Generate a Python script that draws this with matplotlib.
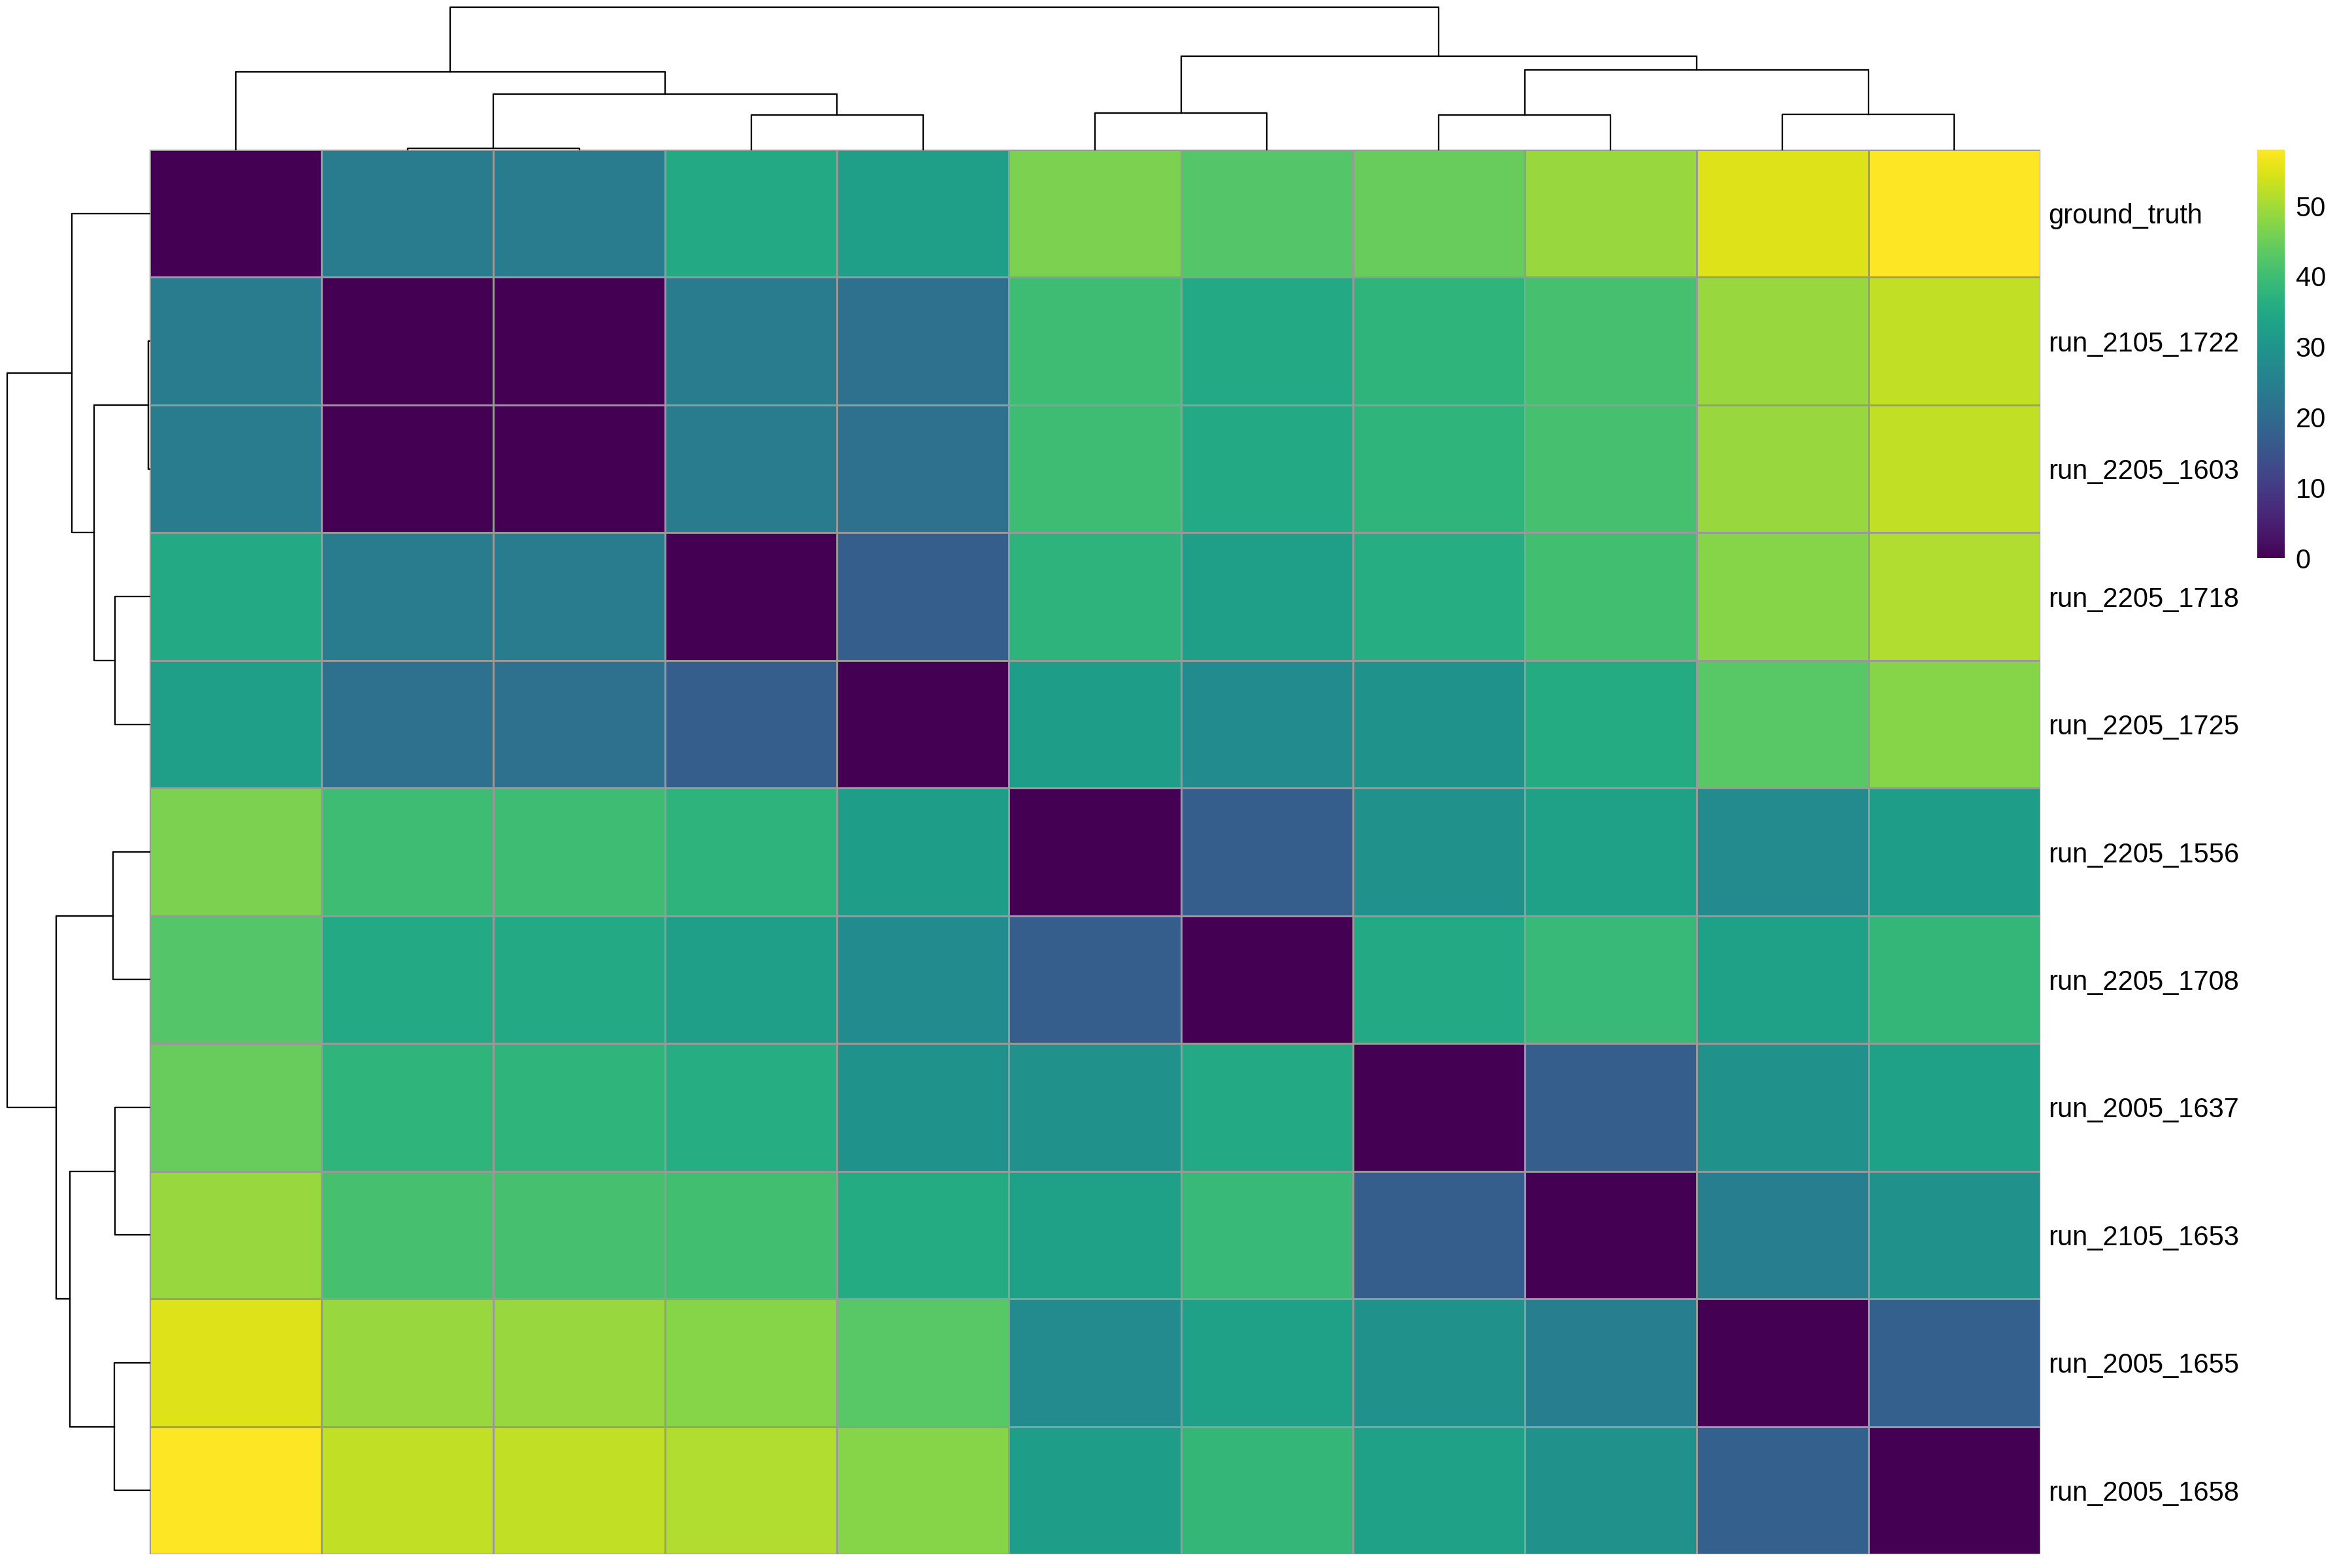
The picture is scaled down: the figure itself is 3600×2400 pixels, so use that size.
import numpy as np
import matplotlib
matplotlib.use("Agg")
import matplotlib.pyplot as plt

plt.rcParams['font.family'] = ['Liberation Sans', 'DejaVu Sans']

# row/column order as shown (after clustering)
labels = ["ground_truth", "run_2105_1722", "run_2205_1603", "run_2205_1718",
          "run_2205_1725", "run_2205_1556", "run_2205_1708", "run_2005_1637",
          "run_2105_1653", "run_2005_1655", "run_2005_1658"]

# distance matrix
dist = [
    [0.0, 23.8, 23.8, 35.0, 32.5, 46.5, 42.5, 44.5, 49.0, 55.0, 58.0],
    [23.8, 0.0, 0.0, 23.8, 21.5, 40.0, 35.0, 37.7, 41.0, 49.0, 52.5],
    [23.8, 0.0, 0.0, 23.8, 21.5, 40.0, 35.0, 37.7, 41.0, 49.0, 52.5],
    [35.0, 23.8, 23.8, 0.0, 17.0, 37.5, 32.5, 36.0, 40.5, 47.5, 51.0],
    [32.5, 21.5, 21.5, 17.0, 0.0, 32.0, 27.8, 29.5, 35.4, 43.0, 47.5],
    [46.5, 40.0, 40.0, 37.5, 32.0, 0.0, 17.0, 29.0, 33.0, 27.5, 32.0],
    [42.5, 35.0, 35.0, 32.5, 27.8, 17.0, 0.0, 35.0, 39.0, 33.0, 38.5],
    [44.5, 37.7, 37.7, 36.0, 29.5, 29.0, 35.0, 0.0, 17.0, 29.0, 33.0],
    [49.0, 41.0, 41.0, 40.5, 35.4, 33.0, 39.0, 17.0, 0.0, 24.5, 29.0],
    [55.0, 49.0, 49.0, 47.5, 43.0, 27.5, 33.0, 29.0, 24.5, 0.0, 17.5],
    [58.0, 52.5, 52.5, 51.0, 47.5, 32.0, 38.5, 33.0, 29.0, 17.5, 0.0],
]

# dendrogram merges (left node, right node, height); leaves are 0..10,
# merged nodes get ids 11, 12, ... in order
merge_left = [1, 3, 11, 0, 5, 7, 9, 16, 15, 14]
merge_right = [2, 4, 12, 13, 6, 8, 10, 17, 18, 19]
merge_height = [1.0, 24.3, 39.0, 54.6, 25.7, 24.3, 24.8, 56.0, 65.6, 100.0]

cbar_ticks = [0, 10, 20, 30, 40, 50]


def dendro_segments():
    n = len(labels)
    pos = {i: i + 0.5 for i in range(n)}
    hgt = {i: 0.0 for i in range(n)}
    segs = []
    for k in range(len(merge_left)):
        a, b, h = merge_left[k], merge_right[k], merge_height[k]
        segs.append(([pos[a], pos[a], pos[b], pos[b]], [hgt[a], h, h, hgt[b]]))
        pos[n + k] = (pos[a] + pos[b]) / 2
        hgt[n + k] = h
    return segs


W, H = 3600, 2400
fig = plt.figure(figsize=(12, 8), dpi=300)

x0, x1 = 229, 3123
y0, y1 = 229, 2379
n = len(labels)

ax = fig.add_axes([x0 / W, 1 - y1 / H, (x1 - x0) / W, (y1 - y0) / H])
data = np.array(dist)
mesh = ax.pcolormesh(data, cmap="viridis", vmin=0, vmax=data.max(),
                     edgecolors="#999999", linewidth=0.7)
ax.set_xlim(0, n)
ax.set_ylim(n, 0)
ax.set_xticks([])
ax.set_yticks(np.arange(n) + 0.5)
ax.set_yticklabels(labels, fontsize=10)
ax.yaxis.tick_right()
ax.tick_params(axis="y", length=0, pad=3)
for s in ax.spines.values():
    s.set_visible(False)

# top dendrogram
axt = fig.add_axes([x0 / W, 1 - y0 / H, (x1 - x0) / W, (y0 - 11) / H])
for xs, ys in dendro_segments():
    axt.plot(xs, ys, color="black", lw=0.55, clip_on=False)
axt.set_xlim(0, n)
axt.set_ylim(0, 100)
axt.axis("off")

# left dendrogram
axl = fig.add_axes([11 / W, 1 - y1 / H, (x0 - 11) / W, (y1 - y0) / H])
for ys, xs in dendro_segments():
    axl.plot(xs, ys, color="black", lw=0.55, clip_on=False)
axl.set_ylim(n, 0)
axl.set_xlim(100, 0)
axl.axis("off")

# colour legend
cax = fig.add_axes([3455 / W, 1 - 854 / H, 42 / W, (854 - 229) / H])
cb = fig.colorbar(mesh, cax=cax, ticks=cbar_ticks)
cb.outline.set_visible(False)
cb.ax.tick_params(length=0, labelsize=10, pad=4)

fig.savefig("out.png", dpi=300)
